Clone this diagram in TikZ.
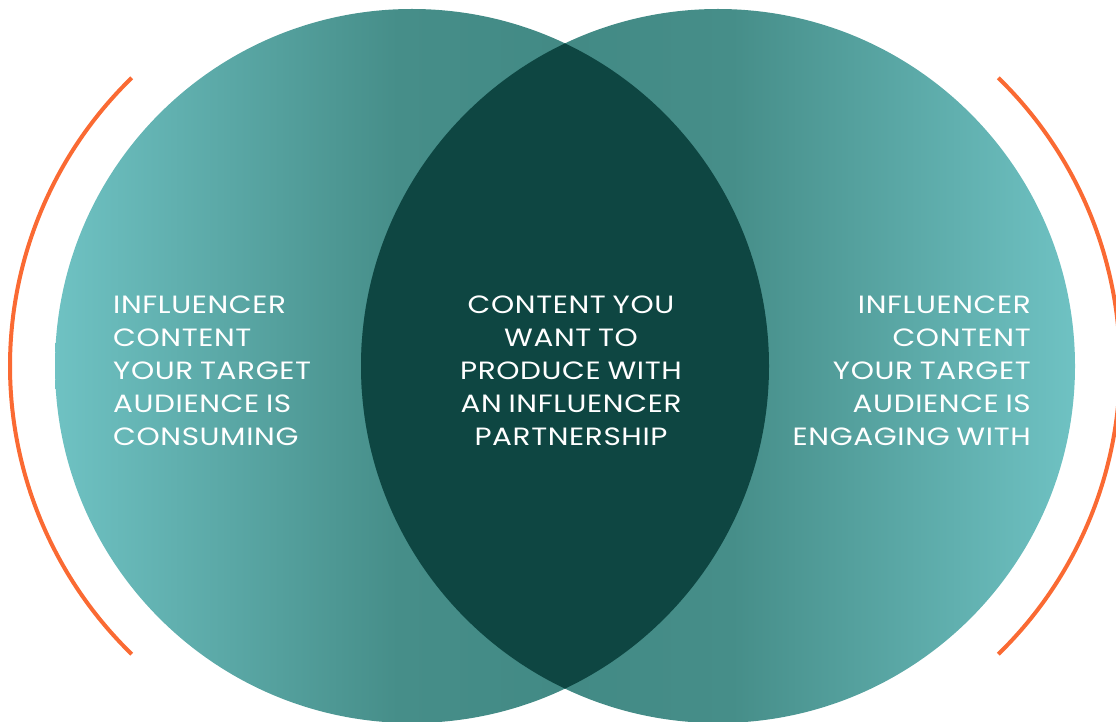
\documentclass[tikz,border=0pt]{standalone}
\usepackage{fontspec}
\usetikzlibrary{calc}
\setmainfont{Poppins}[FakeStretch=1.18, LetterSpace=2.5, WordSpace=0.8]
\definecolor{tealLight}{HTML}{6FC2C3}
\definecolor{tealMid}{HTML}{468E89}
\definecolor{tealDark}{HTML}{3E8580}
\definecolor{lensDark}{HTML}{0E4642}
\definecolor{arcOrange}{HTML}{FA6A33}
% 25bp..75bp of each shading spans the circle's width
\pgfdeclarehorizontalshading{leftset}{100bp}{%
  color(0bp)=(tealLight); color(25bp)=(tealLight);
  color(49bp)=(tealMid); color(75bp)=(tealDark); color(100bp)=(tealDark)}
\pgfdeclarehorizontalshading{rightset}{100bp}{%
  color(0bp)=(tealDark); color(25bp)=(tealDark);
  color(51bp)=(tealMid); color(75bp)=(tealLight); color(100bp)=(tealLight)}
\tikzset{
  label/.style={text=white, font=\fontsize{25}{33}\selectfont, inner sep=0pt},
  bracket/.style={draw=arcOrange, line width=4pt}
}
\begin{document}
\begin{tikzpicture}[x=1pt,y=1pt]
  \useasboundingbox (0,0) rectangle (1116,721);
  \clip (0,0) rectangle (1116,721);
  % centres of the two sets
  \coordinate (cl) at (412,355);
  \coordinate (cr) at (718,355);
  % the two sets with opposing gradients
  \shade[shading=leftset] (cl) circle (357);
  \shade[shading=rightset] (cr) circle (357);
  % their overlap
  \begin{scope}
    \clip (cl) circle (357);
    \fill[lensDark] (cr) circle (357);
  \end{scope}
  % orange brackets
  \draw[bracket] ($(cl)+(134.2:402)$) arc (134.2:225.8:402);
  \draw[bracket] ($(cr)+(45.8:402)$) arc (45.8:-45.8:402);
  % labels
  \node[label, anchor=north west, align=left] (lt) at (113,425)
    {INFLUENCER\\CONTENT\\YOUR TARGET\\AUDIENCE IS\\CONSUMING};
  \node[label, anchor=north, align=center] (ct) at (571,425)
    {CONTENT YOU\\WANT TO\\PRODUCE WITH\\AN INFLUENCER\\PARTNERSHIP};
  \node[label, anchor=north east, align=right] (rt) at (1031,425)
    {INFLUENCER\\CONTENT\\YOUR TARGET\\AUDIENCE IS\\ENGAGING WITH};
\end{tikzpicture}
\end{document}
